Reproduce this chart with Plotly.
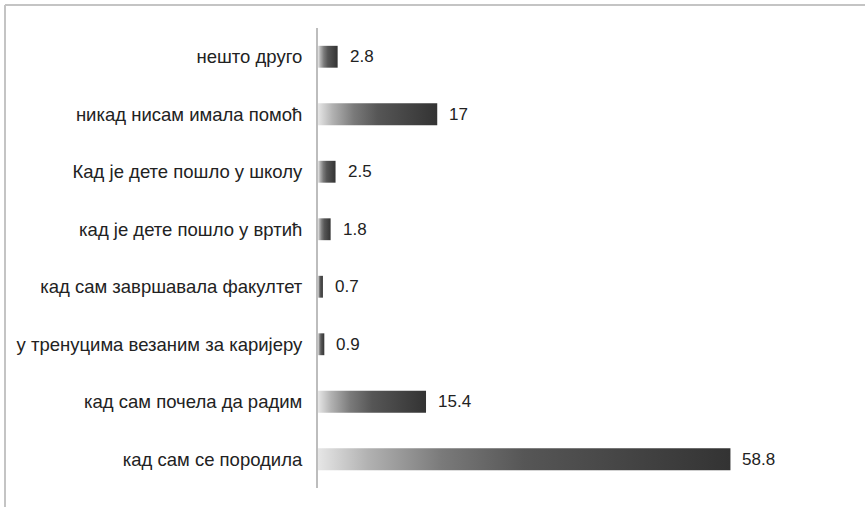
import plotly.graph_objects as go

# categories from bottom to top, as in the source chart
categories = [
    "кад сам се породила",
    "кад сам почела да радим",
    "у тренуцима везаним за каријеру",
    "кад сам завршавала факултет",
    "кад је дете пошло у вртић",
    "Кад је дете пошло у школу",
    "никад нисам имала помоћ",
    "нешто друго",
]
values = [58.8, 15.4, 0.9, 0.7, 1.8, 2.5, 17, 2.8]
value_labels = ["58.8", "15.4", "0.9", "0.7", "1.8", "2.5", "17", "2.8"]

HALF = 0.19  # half bar thickness in category units
grad = [[0, "#e6e6e6"], [0.12, "#b2b2b2"], [0.3, "#7a7a7a"],
        [0.5, "#565656"], [0.8, "#414141"], [1, "#333333"]]

fig = go.Figure()
for i, v in enumerate(values):
    fig.add_trace(go.Scatter(
        x=[0, v, v, 0, 0],
        y=[i - HALF, i - HALF, i + HALF, i + HALF, i - HALF],
        mode="none", fill="toself",
        fillgradient=dict(type="horizontal", colorscale=grad),
        hoverinfo="skip", showlegend=False,
    ))
    fig.add_annotation(x=v, y=i, text=value_labels[i], showarrow=False,
                       xanchor="left", xshift=10,
                       font=dict(family="Liberation Sans, Arial", size=17, color="#222"))

W, H = 865, 507
ml, mr, mt, mb = 318, 56, 28, 19
pw, ph = W - ml - mr, H - mt - mb

# grey frame on top and left edge of the picture
fig.add_shape(type="line", xref="paper", yref="paper",
              x0=-(ml - 5) / pw, x1=(W - ml) / pw, y0=1 + (mt - 5) / ph, y1=1 + (mt - 5) / ph,
              line=dict(color="#c4c4c4", width=2))
fig.add_shape(type="line", xref="paper", yref="paper",
              x0=-(ml - 5) / pw, x1=-(ml - 5) / pw, y0=-mb / ph, y1=1 + (mt - 5) / ph,
              line=dict(color="#c4c4c4", width=2))

fig.update_layout(
    width=W, height=H,
    margin=dict(l=ml, r=mr, t=mt, b=mb),
    paper_bgcolor="white", plot_bgcolor="white",
    xaxis=dict(range=[0, 70], visible=False, fixedrange=True),
    yaxis=dict(range=[-0.5, 7.5], tickmode="array",
               tickvals=list(range(len(categories))), ticktext=categories,
               showgrid=False, zeroline=False, showline=True,
               linecolor="#bdbdbd", linewidth=2, ticks="",
               ticklabelstandoff=10,
               tickfont=dict(family="Liberation Sans, Arial", size=18.5, color="#222222")),
)

fig.write_html("out.html", config={"displayModeBar": False},
               post_script="document.body.style.margin='0';")
